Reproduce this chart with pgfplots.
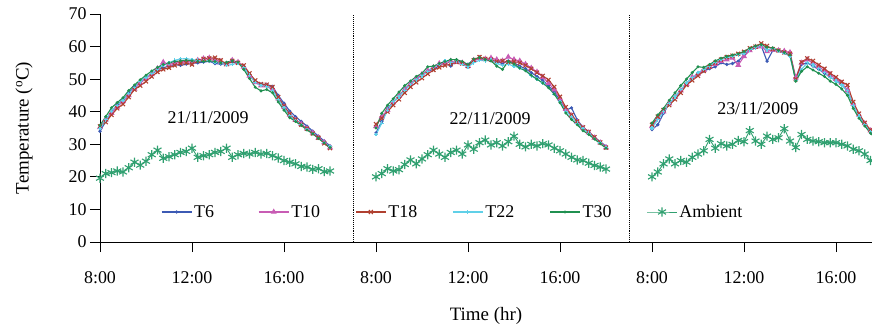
\documentclass[border=0pt]{standalone}
\usepackage{fontspec}
\setmainfont{Liberation Serif}
\usepackage{pgfplots}
\usepackage{pgfplotstable}
\pgfplotsset{compat=1.18}
\definecolor{cT6}{HTML}{3C5AB4}
\definecolor{cT10}{HTML}{C85CB4}
\definecolor{cT18}{HTML}{B04030}
\definecolor{cT22}{HTML}{60D0E8}
\definecolor{cT30}{HTML}{209050}
\definecolor{cAmb}{HTML}{30A070}
\pgfplotstableread{
x T6 T10 T18 T22 T30 A
0.00 34.0 35.2 35.5 34.8 35.8 19.6
0.25 37.0 37.6 36.8 37.5 38.5 21.0
0.50 40.0 39.6 39.0 40.2 41.2 21.3
0.75 42.2 41.5 41.0 42.0 42.8 21.8
1.00 43.6 43.2 42.3 43.5 44.3 21.5
1.25 45.8 45.0 44.5 45.6 46.5 22.8
1.50 47.8 47.0 46.8 47.5 48.2 24.5
1.75 49.0 48.8 48.0 49.2 49.8 23.6
2.00 50.5 50.2 49.3 50.6 51.2 24.8
2.25 51.6 51.5 50.8 51.8 52.5 26.8
2.50 52.8 53.2 52.2 53.0 53.6 28.2
2.75 53.5 55.2 53.0 54.2 54.5 25.7
3.00 54.0 54.5 53.5 55.0 55.0 26.2
3.25 54.5 55.0 54.2 55.8 55.4 26.8
3.50 54.2 55.3 54.8 56.2 55.6 27.5
3.75 54.6 55.5 55.0 56.3 55.8 27.8
4.00 54.8 55.2 54.5 56.0 55.6 28.8
4.25 55.0 55.8 55.6 55.8 55.5 26.0
4.50 55.2 56.3 56.2 55.5 55.4 26.5
4.75 55.5 56.5 56.4 55.6 55.6 26.8
5.00 54.8 56.0 56.6 55.2 55.4 27.5
5.25 54.6 55.4 55.8 55.0 55.0 27.8
5.50 54.8 54.5 54.6 54.2 55.2 28.8
5.75 55.2 55.8 55.6 54.5 55.6 26.0
6.00 55.0 55.2 55.0 55.0 55.2 26.8
6.25 54.0 53.8 54.2 53.5 53.0 27.2
6.50 51.5 51.0 51.8 51.2 50.2 27.0
6.75 49.2 49.0 49.6 49.0 47.5 27.5
7.00 48.5 48.0 48.5 48.0 46.4 27.0
7.25 48.3 48.0 48.3 47.8 46.8 27.2
7.50 47.8 47.0 47.6 46.6 45.8 26.5
7.75 45.0 44.0 44.5 43.8 43.0 25.8
8.00 42.6 41.5 41.8 41.2 40.5 25.0
8.25 40.2 39.0 39.3 38.8 38.2 24.5
8.50 38.5 37.4 37.6 37.2 37.0 24.0
8.75 37.0 36.2 36.0 36.0 35.8 23.2
9.00 35.6 34.8 34.8 34.6 34.4 23.0
9.25 34.0 33.5 33.3 33.3 33.2 22.3
9.50 32.5 32.0 32.0 31.8 31.8 22.5
9.75 31.0 30.6 30.3 30.5 30.4 21.6
10.00 29.5 29.0 28.8 29.2 29.0 21.8
11.00 nan nan nan nan nan nan
12.00 33.5 35.5 36.2 33.0 35.0 20.0
12.25 37.0 38.5 38.0 36.5 39.5 21.0
12.50 41.0 40.5 40.0 40.5 42.0 22.5
12.75 43.0 42.8 42.0 43.0 44.0 21.8
13.00 44.8 44.8 43.8 44.6 46.0 22.2
13.25 47.0 46.8 45.8 46.6 48.0 23.8
13.50 48.6 48.6 47.6 48.3 49.4 25.2
13.75 50.0 50.2 49.0 49.8 50.8 24.0
14.00 51.3 51.5 50.3 51.0 51.8 25.5
14.25 52.5 52.6 51.6 52.4 53.8 26.8
14.50 53.0 53.6 52.8 53.8 54.0 28.2
14.75 54.2 54.8 53.6 54.6 54.8 27.0
15.00 55.0 55.0 54.2 55.6 55.4 26.0
15.25 54.0 55.5 54.6 55.0 56.0 27.5
15.50 55.8 55.2 55.2 55.6 56.0 28.2
15.75 55.0 55.0 54.8 54.5 55.4 27.0
16.00 54.6 54.0 54.0 53.8 54.5 29.8
16.25 55.6 55.8 55.8 55.0 56.2 28.5
16.50 56.4 56.4 56.8 55.8 56.6 30.5
16.75 56.0 56.2 56.2 55.6 56.0 31.3
17.00 55.8 56.5 56.0 55.8 55.6 29.8
17.25 55.4 56.0 55.4 54.8 54.0 30.5
17.50 54.8 55.6 55.6 54.2 53.0 29.5
17.75 55.6 56.8 55.2 54.6 55.4 30.8
18.00 55.0 56.0 55.4 54.0 54.6 32.5
18.25 54.0 55.6 55.0 53.4 53.4 30.0
18.50 53.2 54.6 54.2 52.6 52.6 29.2
18.75 52.0 53.4 53.2 51.0 51.2 30.0
19.00 50.8 52.2 52.0 50.0 50.0 29.5
19.25 49.6 50.6 51.0 48.8 48.8 30.2
19.50 48.0 48.8 49.8 47.4 47.4 29.8
19.75 46.0 46.8 47.6 45.4 45.4 28.8
20.00 43.5 44.0 44.6 43.0 42.8 28.0
20.25 40.5 40.8 41.4 40.2 39.6 27.0
20.50 41.2 38.8 39.0 38.5 37.6 26.0
20.75 37.5 36.8 37.0 36.5 36.0 25.2
21.00 35.2 35.0 35.2 34.8 34.2 25.0
21.25 33.8 33.6 33.8 33.4 33.0 24.2
21.50 32.2 32.0 32.2 31.8 31.6 23.5
21.75 30.8 30.5 30.6 30.4 30.2 23.0
22.00 29.4 29.0 29.0 29.0 28.8 22.4
23.00 nan nan nan nan nan nan
24.00 34.5 35.5 36.0 35.0 36.5 20.0
24.25 36.0 38.0 38.5 37.5 39.0 21.5
24.50 39.5 40.0 40.5 40.0 41.0 24.0
24.75 42.5 42.5 42.0 42.5 43.5 25.5
25.00 44.2 44.5 43.8 44.6 45.8 24.0
25.25 46.5 46.5 45.8 46.8 48.0 25.0
25.50 48.8 48.5 48.2 48.8 50.0 24.5
25.75 50.2 50.6 49.6 50.4 52.0 26.0
26.00 51.6 51.6 51.0 52.0 53.8 27.0
26.25 52.5 52.8 52.5 53.0 53.6 28.0
26.50 53.2 53.8 53.8 54.0 54.5 31.5
26.75 53.8 54.6 55.0 55.2 55.6 28.8
27.00 55.0 55.5 56.0 56.0 56.4 30.2
27.25 54.5 56.0 56.8 56.6 57.0 29.5
27.50 54.8 56.5 57.2 57.0 57.4 30.0
27.75 55.5 54.3 57.8 57.5 57.8 31.2
28.00 57.5 57.0 58.4 58.0 58.5 30.8
28.25 58.8 58.8 59.5 59.0 59.5 34.2
28.50 59.6 59.8 60.0 59.6 60.2 31.0
28.75 60.2 60.0 61.0 60.2 60.6 30.0
29.00 55.5 58.5 60.2 59.0 59.8 32.5
29.25 58.8 59.0 59.2 59.4 59.6 31.5
29.50 58.6 58.8 58.8 58.6 58.8 32.0
29.75 58.0 58.6 58.2 58.0 58.2 34.8
30.00 57.4 58.2 57.8 57.0 57.4 31.0
30.25 50.0 50.5 50.0 49.6 49.4 29.0
30.50 54.5 55.0 55.2 53.0 52.4 33.0
30.75 55.0 56.0 56.4 55.0 53.8 31.5
31.00 54.0 55.0 55.6 54.4 52.8 31.0
31.25 53.0 53.8 54.4 53.2 51.8 30.8
31.50 51.8 52.6 53.2 52.0 50.8 30.5
31.75 50.6 51.4 51.8 50.6 49.4 30.5
32.00 49.6 50.0 50.6 49.4 48.4 30.5
32.25 48.4 48.8 49.2 48.2 47.0 30.0
32.50 46.2 46.6 48.2 46.4 45.0 29.5
32.75 42.0 42.4 43.0 42.0 41.0 28.5
33.00 38.8 39.0 39.4 38.6 38.0 28.0
33.25 36.2 36.4 36.6 36.0 35.6 27.0
33.50 34.0 34.2 34.4 33.8 33.4 25.0
33.75 32.0 32.2 32.4 31.8 31.4 24.5
34.00 30.2 30.4 30.6 30.0 29.6 23.5
}\datatable
\begin{document}
\begin{tikzpicture}
\begin{axis}[
  at={(100bp,84bp)}, anchor=south west,
  scale only axis, width=772bp, height=228bp,
  xmin=0, xmax=33.565, ymin=0, ymax=70,
  axis x line=bottom, axis y line=left,
  axis line style={-, line width=0.8bp, black},
  tick align=outside, major tick length=10bp,
  tick style={black, line width=0.8bp},
  ytick={0,10,20,30,40,50,60,70},
  xtick={0,4,8,12,16,20,24,28,32},
  xticklabels={8:00,12:00,16:00,8:00,12:00,16:00,8:00,12:00,16:00},
  x tick label style={yshift=-16bp},
  ticklabel style={font=\fontsize{18}{21}\selectfont},
  /pgf/number format/assume math mode=true,
  xlabel={Time (hr)},
  ylabel={Temperature (\textsuperscript{o}C)},
  label style={font=\fontsize{19}{22}\selectfont},
  xlabel style={at={(axis description cs:0.5,-0.3246)}, anchor=center},
  ylabel style={at={(axis description cs:-0.0984,0.5)}, anchor=center},
  unbounded coords=jump,
  legend columns=6,
  legend style={draw=none, fill=none, at={(0.075,0.1316)}, anchor=west,
    font=\fontsize{18}{21}\selectfont, nodes={inner sep=2bp},
    /tikz/every even column/.append style={column sep=0pt}},
  legend image code/.code={\draw[mark repeat=2,mark phase=2,#1] plot coordinates {(0bp,0bp)(15bp,0bp)(30bp,0bp)};},
  every axis plot/.append style={line width=1.1bp},
]
\addplot[black, densely dotted, line width=0.6bp, forget plot] coordinates {(11,0) (11,70)};
\addplot[black, densely dotted, line width=0.6bp, forget plot] coordinates {(23,0) (23,70)};
\addplot[cT6, mark=*, mark size=1bp] table[x=x, y=T6] {\datatable};
\addlegendentry{\makebox[62bp][l]{T6}}
\addplot[cT10, mark=triangle*, mark size=2.4bp] table[x=x, y=T10] {\datatable};
\addlegendentry{\makebox[62bp][l]{T10}}
\addplot[cT18, mark=x, mark size=2.8bp, mark options={line width=1.1bp}] table[x=x, y=T18] {\datatable};
\addlegendentry{\makebox[62bp][l]{T18}}
\addplot[cT22, mark=+, mark size=1.8bp] table[x=x, y=T22] {\datatable};
\addlegendentry{\makebox[62bp][l]{T22}}
\addplot[cT30, mark=*, mark size=0.9bp] table[x=x, y=T30] {\datatable};
\addlegendentry{\makebox[62bp][l]{T30}}
\addplot[cAmb, line width=0.9bp, mark=asterisk, mark size=4.6bp, mark options={line width=1.1bp}] table[x=x, y=A] {\datatable};
\addlegendentry{\makebox[62bp][l]{Ambient}}
\node[font=\fontsize{18}{21}\selectfont] at (axis cs:4.7,38.1) {21/11/2009};
\node[font=\fontsize{18}{21}\selectfont] at (axis cs:16.96,37.9) {22/11/2009};
\node[font=\fontsize{18}{21}\selectfont] at (axis cs:28.6,40.8) {23/11/2009};
\end{axis}
\pgfresetboundingbox
\path[use as bounding box] (0,0) rectangle (872bp,326bp);
\end{tikzpicture}
\end{document}
